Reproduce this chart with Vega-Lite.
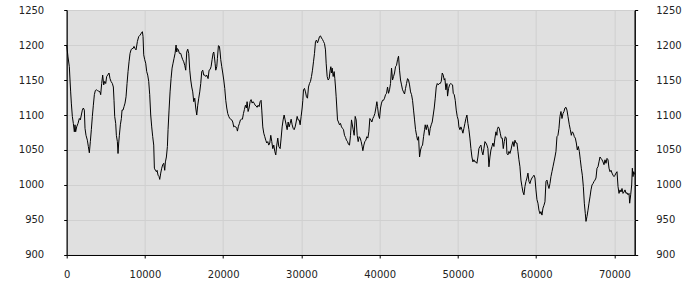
{
  "$schema": "https://vega.github.io/schema/vega-lite/v6.json",
  "width": 568,
  "height": 245,
  "autosize": {"type": "none"},
  "padding": {"left": 66.7, "top": 10, "right": 66, "bottom": 45},
  "background": "white",
  "config": {
    "view": {"fill": "#e0e0e0", "stroke": "black", "strokeWidth": 1},
    "axis": {
      "labelFont": "DejaVu Sans",
      "labelFontSize": 10,
      "labelColor": "#222222",
      "domainColor": "black",
      "domainWidth": 1,
      "tickColor": "black",
      "tickSize": 3,
      "tickWidth": 1,
      "gridColor": "#d0d0d0",
      "gridWidth": 1
    }
  },
  "data": {
    "values": [
      {"x": 0, "y": 1200}, {"x": 166, "y": 1183}, {"x": 337, "y": 1169}, {"x": 422, "y": 1150}, {"x": 507, "y": 1133},
      {"x": 593, "y": 1117}, {"x": 721, "y": 1098}, {"x": 849, "y": 1088}, {"x": 977, "y": 1076}, {"x": 1061, "y": 1086},
      {"x": 1146, "y": 1076}, {"x": 1274, "y": 1083}, {"x": 1445, "y": 1088}, {"x": 1616, "y": 1095}, {"x": 1743, "y": 1093},
      {"x": 1871, "y": 1100}, {"x": 1999, "y": 1107}, {"x": 2127, "y": 1110}, {"x": 2255, "y": 1107}, {"x": 2340, "y": 1081},
      {"x": 2468, "y": 1071}, {"x": 2639, "y": 1064}, {"x": 2767, "y": 1055}, {"x": 2894, "y": 1046}, {"x": 3022, "y": 1062},
      {"x": 3150, "y": 1079}, {"x": 3278, "y": 1098}, {"x": 3406, "y": 1114}, {"x": 3534, "y": 1129}, {"x": 3662, "y": 1135},
      {"x": 3790, "y": 1136}, {"x": 3918, "y": 1135}, {"x": 4088, "y": 1134}, {"x": 4259, "y": 1133}, {"x": 4344, "y": 1129},
      {"x": 4472, "y": 1145}, {"x": 4600, "y": 1157}, {"x": 4728, "y": 1143}, {"x": 4856, "y": 1148}, {"x": 4984, "y": 1145},
      {"x": 5111, "y": 1155}, {"x": 5239, "y": 1157}, {"x": 5410, "y": 1160}, {"x": 5538, "y": 1152}, {"x": 5666, "y": 1148},
      {"x": 5836, "y": 1145}, {"x": 5964, "y": 1140}, {"x": 6050, "y": 1121}, {"x": 6135, "y": 1098}, {"x": 6263, "y": 1088},
      {"x": 6348, "y": 1071}, {"x": 6476, "y": 1062}, {"x": 6561, "y": 1045}, {"x": 6647, "y": 1060}, {"x": 6732, "y": 1071},
      {"x": 6860, "y": 1086}, {"x": 6988, "y": 1095}, {"x": 7073, "y": 1107}, {"x": 7201, "y": 1107}, {"x": 7329, "y": 1112},
      {"x": 7457, "y": 1117}, {"x": 7584, "y": 1126}, {"x": 7712, "y": 1145}, {"x": 7840, "y": 1162}, {"x": 7968, "y": 1176},
      {"x": 8096, "y": 1188}, {"x": 8224, "y": 1193}, {"x": 8351, "y": 1195}, {"x": 8479, "y": 1195}, {"x": 8607, "y": 1198},
      {"x": 8735, "y": 1195}, {"x": 8863, "y": 1193}, {"x": 9034, "y": 1205}, {"x": 9204, "y": 1212}, {"x": 9375, "y": 1214},
      {"x": 9545, "y": 1217}, {"x": 9673, "y": 1219}, {"x": 9758, "y": 1212}, {"x": 9844, "y": 1186}, {"x": 9972, "y": 1179},
      {"x": 10100, "y": 1174}, {"x": 10228, "y": 1162}, {"x": 10355, "y": 1157}, {"x": 10483, "y": 1148}, {"x": 10611, "y": 1129},
      {"x": 10739, "y": 1100}, {"x": 10867, "y": 1083}, {"x": 10995, "y": 1069}, {"x": 11123, "y": 1057}, {"x": 11208, "y": 1024},
      {"x": 11336, "y": 1021}, {"x": 11464, "y": 1019}, {"x": 11549, "y": 1021}, {"x": 11677, "y": 1014}, {"x": 11805, "y": 1012},
      {"x": 11890, "y": 1008}, {"x": 12018, "y": 1017}, {"x": 12146, "y": 1024}, {"x": 12274, "y": 1029}, {"x": 12401, "y": 1031},
      {"x": 12529, "y": 1021}, {"x": 12615, "y": 1033}, {"x": 12743, "y": 1040}, {"x": 12871, "y": 1055}, {"x": 12956, "y": 1079},
      {"x": 13084, "y": 1107}, {"x": 13212, "y": 1133}, {"x": 13340, "y": 1152}, {"x": 13468, "y": 1167}, {"x": 13595, "y": 1174},
      {"x": 13723, "y": 1181}, {"x": 13851, "y": 1188}, {"x": 13979, "y": 1200}, {"x": 14064, "y": 1190}, {"x": 14150, "y": 1195},
      {"x": 14278, "y": 1193}, {"x": 14406, "y": 1188}, {"x": 14576, "y": 1188}, {"x": 14704, "y": 1183}, {"x": 14832, "y": 1179},
      {"x": 14960, "y": 1176}, {"x": 15088, "y": 1171}, {"x": 15215, "y": 1164}, {"x": 15343, "y": 1190}, {"x": 15471, "y": 1194},
      {"x": 15599, "y": 1188}, {"x": 15727, "y": 1164}, {"x": 15855, "y": 1150}, {"x": 15983, "y": 1140}, {"x": 16110, "y": 1133},
      {"x": 16238, "y": 1119}, {"x": 16366, "y": 1124}, {"x": 16494, "y": 1110}, {"x": 16622, "y": 1100}, {"x": 16750, "y": 1114},
      {"x": 16878, "y": 1124}, {"x": 17006, "y": 1133}, {"x": 17133, "y": 1145}, {"x": 17261, "y": 1162}, {"x": 17389, "y": 1164},
      {"x": 17517, "y": 1157}, {"x": 17645, "y": 1157}, {"x": 17773, "y": 1155}, {"x": 17900, "y": 1157}, {"x": 18072, "y": 1152},
      {"x": 18200, "y": 1164}, {"x": 18328, "y": 1165}, {"x": 18456, "y": 1169}, {"x": 18584, "y": 1179}, {"x": 18711, "y": 1188},
      {"x": 18796, "y": 1190}, {"x": 18882, "y": 1183}, {"x": 18967, "y": 1174}, {"x": 19052, "y": 1164}, {"x": 19180, "y": 1169},
      {"x": 19265, "y": 1181}, {"x": 19393, "y": 1199}, {"x": 19521, "y": 1198}, {"x": 19606, "y": 1190}, {"x": 19691, "y": 1179},
      {"x": 19819, "y": 1169}, {"x": 19947, "y": 1160}, {"x": 20075, "y": 1150}, {"x": 20203, "y": 1138}, {"x": 20330, "y": 1121},
      {"x": 20458, "y": 1110}, {"x": 20586, "y": 1102}, {"x": 20714, "y": 1098}, {"x": 20842, "y": 1095}, {"x": 20970, "y": 1094},
      {"x": 21098, "y": 1093}, {"x": 21226, "y": 1090}, {"x": 21353, "y": 1083}, {"x": 21481, "y": 1084}, {"x": 21609, "y": 1083},
      {"x": 21737, "y": 1081}, {"x": 21822, "y": 1077}, {"x": 21950, "y": 1084}, {"x": 22078, "y": 1088}, {"x": 22206, "y": 1093},
      {"x": 22334, "y": 1094}, {"x": 22462, "y": 1094}, {"x": 22590, "y": 1102}, {"x": 22717, "y": 1108}, {"x": 22845, "y": 1114},
      {"x": 22973, "y": 1110}, {"x": 23058, "y": 1119}, {"x": 23186, "y": 1105}, {"x": 23314, "y": 1110}, {"x": 23442, "y": 1119},
      {"x": 23570, "y": 1122}, {"x": 23698, "y": 1117}, {"x": 23826, "y": 1119}, {"x": 23953, "y": 1117}, {"x": 24081, "y": 1114},
      {"x": 24209, "y": 1113}, {"x": 24337, "y": 1111}, {"x": 24465, "y": 1114}, {"x": 24593, "y": 1112}, {"x": 24721, "y": 1119},
      {"x": 24849, "y": 1121}, {"x": 24934, "y": 1107}, {"x": 25062, "y": 1083}, {"x": 25190, "y": 1074}, {"x": 25318, "y": 1069},
      {"x": 25446, "y": 1064}, {"x": 25574, "y": 1060}, {"x": 25701, "y": 1062}, {"x": 25829, "y": 1057}, {"x": 25957, "y": 1060},
      {"x": 26085, "y": 1071}, {"x": 26213, "y": 1062}, {"x": 26341, "y": 1052}, {"x": 26469, "y": 1057}, {"x": 26597, "y": 1048},
      {"x": 26724, "y": 1043}, {"x": 26852, "y": 1057}, {"x": 26980, "y": 1067}, {"x": 27108, "y": 1055}, {"x": 27281, "y": 1052},
      {"x": 27409, "y": 1067}, {"x": 27537, "y": 1083}, {"x": 27665, "y": 1093}, {"x": 27793, "y": 1100}, {"x": 27921, "y": 1093},
      {"x": 28049, "y": 1086}, {"x": 28177, "y": 1079}, {"x": 28305, "y": 1090}, {"x": 28432, "y": 1083}, {"x": 28560, "y": 1088},
      {"x": 28688, "y": 1094}, {"x": 28816, "y": 1086}, {"x": 28944, "y": 1081}, {"x": 29072, "y": 1079}, {"x": 29200, "y": 1083},
      {"x": 29328, "y": 1090}, {"x": 29455, "y": 1098}, {"x": 29583, "y": 1093}, {"x": 29711, "y": 1093}, {"x": 29839, "y": 1086},
      {"x": 29967, "y": 1098}, {"x": 30095, "y": 1110}, {"x": 30180, "y": 1121}, {"x": 30265, "y": 1136}, {"x": 30393, "y": 1138},
      {"x": 30521, "y": 1133}, {"x": 30649, "y": 1126}, {"x": 30777, "y": 1124}, {"x": 30905, "y": 1140}, {"x": 31033, "y": 1145},
      {"x": 31161, "y": 1148}, {"x": 31289, "y": 1155}, {"x": 31416, "y": 1164}, {"x": 31544, "y": 1176}, {"x": 31672, "y": 1188},
      {"x": 31800, "y": 1205}, {"x": 31928, "y": 1207}, {"x": 32056, "y": 1203}, {"x": 32184, "y": 1207}, {"x": 32312, "y": 1212},
      {"x": 32440, "y": 1213}, {"x": 32568, "y": 1210}, {"x": 32696, "y": 1208}, {"x": 32823, "y": 1205}, {"x": 32951, "y": 1202},
      {"x": 33079, "y": 1193}, {"x": 33164, "y": 1174}, {"x": 33292, "y": 1155}, {"x": 33420, "y": 1150}, {"x": 33548, "y": 1152},
      {"x": 33676, "y": 1164}, {"x": 33761, "y": 1169}, {"x": 33846, "y": 1160}, {"x": 33932, "y": 1167}, {"x": 34060, "y": 1155},
      {"x": 34187, "y": 1162}, {"x": 34273, "y": 1152}, {"x": 34358, "y": 1140}, {"x": 34443, "y": 1126}, {"x": 34528, "y": 1110},
      {"x": 34614, "y": 1093}, {"x": 34741, "y": 1090}, {"x": 34869, "y": 1086}, {"x": 34997, "y": 1088}, {"x": 35125, "y": 1083},
      {"x": 35253, "y": 1081}, {"x": 35381, "y": 1079}, {"x": 35509, "y": 1071}, {"x": 35637, "y": 1068}, {"x": 35764, "y": 1064},
      {"x": 35892, "y": 1062}, {"x": 36020, "y": 1058}, {"x": 36148, "y": 1057}, {"x": 36276, "y": 1071}, {"x": 36404, "y": 1093},
      {"x": 36618, "y": 1079}, {"x": 36746, "y": 1071}, {"x": 36874, "y": 1098}, {"x": 37002, "y": 1093}, {"x": 37129, "y": 1071},
      {"x": 37257, "y": 1062}, {"x": 37385, "y": 1069}, {"x": 37513, "y": 1067}, {"x": 37641, "y": 1062}, {"x": 37769, "y": 1055},
      {"x": 37854, "y": 1049}, {"x": 37982, "y": 1057}, {"x": 38110, "y": 1062}, {"x": 38238, "y": 1064}, {"x": 38366, "y": 1069},
      {"x": 38493, "y": 1067}, {"x": 38621, "y": 1076}, {"x": 38749, "y": 1095}, {"x": 38877, "y": 1093}, {"x": 39005, "y": 1090},
      {"x": 39133, "y": 1095}, {"x": 39261, "y": 1098}, {"x": 39389, "y": 1102}, {"x": 39517, "y": 1110}, {"x": 39645, "y": 1119},
      {"x": 39730, "y": 1112}, {"x": 39858, "y": 1100}, {"x": 39985, "y": 1095}, {"x": 40113, "y": 1110}, {"x": 40241, "y": 1117},
      {"x": 40369, "y": 1121}, {"x": 40497, "y": 1121}, {"x": 40625, "y": 1124}, {"x": 40753, "y": 1129}, {"x": 40881, "y": 1131},
      {"x": 41009, "y": 1140}, {"x": 41137, "y": 1131}, {"x": 41264, "y": 1136}, {"x": 41392, "y": 1145}, {"x": 41520, "y": 1167},
      {"x": 41648, "y": 1150}, {"x": 41776, "y": 1155}, {"x": 41904, "y": 1160}, {"x": 42032, "y": 1169}, {"x": 42160, "y": 1171},
      {"x": 42288, "y": 1179}, {"x": 42416, "y": 1184}, {"x": 42544, "y": 1164}, {"x": 42672, "y": 1150}, {"x": 42800, "y": 1143},
      {"x": 42927, "y": 1136}, {"x": 43055, "y": 1133}, {"x": 43183, "y": 1130}, {"x": 43311, "y": 1138}, {"x": 43439, "y": 1145},
      {"x": 43567, "y": 1152}, {"x": 43695, "y": 1150}, {"x": 43823, "y": 1143}, {"x": 43951, "y": 1133}, {"x": 44079, "y": 1129},
      {"x": 44206, "y": 1121}, {"x": 44334, "y": 1107}, {"x": 44462, "y": 1093}, {"x": 44590, "y": 1079}, {"x": 44718, "y": 1071},
      {"x": 44846, "y": 1064}, {"x": 44974, "y": 1069}, {"x": 45102, "y": 1040}, {"x": 45230, "y": 1050}, {"x": 45357, "y": 1055},
      {"x": 45485, "y": 1057}, {"x": 45613, "y": 1069}, {"x": 45741, "y": 1079}, {"x": 45827, "y": 1086}, {"x": 45955, "y": 1079},
      {"x": 46083, "y": 1086}, {"x": 46210, "y": 1081}, {"x": 46338, "y": 1071}, {"x": 46466, "y": 1081}, {"x": 46594, "y": 1086},
      {"x": 46722, "y": 1090}, {"x": 46850, "y": 1100}, {"x": 46978, "y": 1110}, {"x": 47106, "y": 1124}, {"x": 47234, "y": 1140},
      {"x": 47362, "y": 1145}, {"x": 47489, "y": 1143}, {"x": 47617, "y": 1145}, {"x": 47745, "y": 1145}, {"x": 47873, "y": 1148},
      {"x": 48001, "y": 1160}, {"x": 48129, "y": 1157}, {"x": 48257, "y": 1150}, {"x": 48342, "y": 1152}, {"x": 48470, "y": 1136},
      {"x": 48598, "y": 1145}, {"x": 48683, "y": 1127}, {"x": 48811, "y": 1138}, {"x": 48939, "y": 1143}, {"x": 49067, "y": 1145},
      {"x": 49195, "y": 1144}, {"x": 49322, "y": 1143}, {"x": 49407, "y": 1131}, {"x": 49535, "y": 1129}, {"x": 49663, "y": 1121},
      {"x": 49791, "y": 1107}, {"x": 49919, "y": 1098}, {"x": 50047, "y": 1093}, {"x": 50132, "y": 1083}, {"x": 50260, "y": 1079},
      {"x": 50388, "y": 1083}, {"x": 50516, "y": 1079}, {"x": 50644, "y": 1074}, {"x": 50772, "y": 1081}, {"x": 50900, "y": 1088},
      {"x": 51028, "y": 1095}, {"x": 51156, "y": 1100}, {"x": 51283, "y": 1088}, {"x": 51411, "y": 1079}, {"x": 51539, "y": 1067},
      {"x": 51667, "y": 1052}, {"x": 51795, "y": 1040}, {"x": 51923, "y": 1033}, {"x": 52051, "y": 1036}, {"x": 52178, "y": 1033},
      {"x": 52306, "y": 1033}, {"x": 52434, "y": 1031}, {"x": 52562, "y": 1040}, {"x": 52690, "y": 1052}, {"x": 52818, "y": 1055},
      {"x": 52946, "y": 1057}, {"x": 53074, "y": 1048}, {"x": 53202, "y": 1043}, {"x": 53329, "y": 1052}, {"x": 53457, "y": 1062},
      {"x": 53585, "y": 1060}, {"x": 53713, "y": 1057}, {"x": 53841, "y": 1052}, {"x": 53969, "y": 1026}, {"x": 54097, "y": 1040},
      {"x": 54225, "y": 1050}, {"x": 54353, "y": 1055}, {"x": 54481, "y": 1060}, {"x": 54609, "y": 1055}, {"x": 54737, "y": 1067},
      {"x": 54864, "y": 1076}, {"x": 54992, "y": 1071}, {"x": 55035, "y": 1079}, {"x": 55163, "y": 1083}, {"x": 55291, "y": 1081},
      {"x": 55419, "y": 1074}, {"x": 55547, "y": 1067}, {"x": 55674, "y": 1067}, {"x": 55802, "y": 1052}, {"x": 55930, "y": 1062},
      {"x": 56058, "y": 1069}, {"x": 56186, "y": 1067}, {"x": 56271, "y": 1045}, {"x": 56399, "y": 1043}, {"x": 56527, "y": 1048},
      {"x": 56655, "y": 1045}, {"x": 56783, "y": 1050}, {"x": 56911, "y": 1057}, {"x": 57039, "y": 1062}, {"x": 57167, "y": 1055},
      {"x": 57294, "y": 1064}, {"x": 57422, "y": 1060}, {"x": 57550, "y": 1060}, {"x": 57678, "y": 1048}, {"x": 57806, "y": 1036},
      {"x": 57934, "y": 1026}, {"x": 58062, "y": 1007}, {"x": 58190, "y": 998}, {"x": 58317, "y": 990}, {"x": 58445, "y": 986},
      {"x": 58573, "y": 998}, {"x": 58701, "y": 1005}, {"x": 58829, "y": 1010}, {"x": 58957, "y": 1017}, {"x": 59085, "y": 1005},
      {"x": 59212, "y": 1002}, {"x": 59340, "y": 1007}, {"x": 59468, "y": 1010}, {"x": 59596, "y": 1012}, {"x": 59724, "y": 1014},
      {"x": 59852, "y": 1010}, {"x": 59980, "y": 993}, {"x": 60108, "y": 979}, {"x": 60236, "y": 974}, {"x": 60363, "y": 964},
      {"x": 60491, "y": 959}, {"x": 60619, "y": 962}, {"x": 60747, "y": 957}, {"x": 60875, "y": 967}, {"x": 61003, "y": 971},
      {"x": 61131, "y": 976}, {"x": 61259, "y": 1005}, {"x": 61387, "y": 1007}, {"x": 61514, "y": 1000}, {"x": 61642, "y": 995},
      {"x": 61770, "y": 1002}, {"x": 61898, "y": 1012}, {"x": 62026, "y": 1019}, {"x": 62154, "y": 1026}, {"x": 62282, "y": 1033},
      {"x": 62410, "y": 1040}, {"x": 62537, "y": 1048}, {"x": 62665, "y": 1069}, {"x": 62793, "y": 1071}, {"x": 62921, "y": 1081},
      {"x": 63049, "y": 1098}, {"x": 63177, "y": 1105}, {"x": 63305, "y": 1095}, {"x": 63433, "y": 1102}, {"x": 63561, "y": 1105},
      {"x": 63688, "y": 1110}, {"x": 63816, "y": 1111}, {"x": 63944, "y": 1107}, {"x": 64072, "y": 1098}, {"x": 64244, "y": 1086},
      {"x": 64372, "y": 1079}, {"x": 64500, "y": 1071}, {"x": 64628, "y": 1076}, {"x": 64755, "y": 1074}, {"x": 64883, "y": 1069},
      {"x": 65011, "y": 1067}, {"x": 65139, "y": 1060}, {"x": 65267, "y": 1050}, {"x": 65395, "y": 1055}, {"x": 65523, "y": 1048},
      {"x": 65651, "y": 1036}, {"x": 65778, "y": 1024}, {"x": 65906, "y": 1014}, {"x": 66034, "y": 998}, {"x": 66162, "y": 974},
      {"x": 66290, "y": 959}, {"x": 66375, "y": 948}, {"x": 66503, "y": 955}, {"x": 66631, "y": 964}, {"x": 66759, "y": 974},
      {"x": 66887, "y": 983}, {"x": 67015, "y": 993}, {"x": 67143, "y": 1000}, {"x": 67271, "y": 1002}, {"x": 67398, "y": 1005},
      {"x": 67526, "y": 1007}, {"x": 67654, "y": 1010}, {"x": 67782, "y": 1024}, {"x": 67910, "y": 1026}, {"x": 68038, "y": 1033},
      {"x": 68166, "y": 1040}, {"x": 68294, "y": 1038}, {"x": 68421, "y": 1036}, {"x": 68549, "y": 1033}, {"x": 68677, "y": 1029},
      {"x": 68805, "y": 1036}, {"x": 68933, "y": 1031}, {"x": 69061, "y": 1038}, {"x": 69189, "y": 1036}, {"x": 69317, "y": 1024},
      {"x": 69444, "y": 1019}, {"x": 69572, "y": 1021}, {"x": 69700, "y": 1017}, {"x": 69828, "y": 1014}, {"x": 69956, "y": 1012},
      {"x": 70084, "y": 1014}, {"x": 70212, "y": 1017}, {"x": 70340, "y": 1019}, {"x": 70468, "y": 998}, {"x": 70596, "y": 988},
      {"x": 70724, "y": 993}, {"x": 70852, "y": 990}, {"x": 70980, "y": 995}, {"x": 71108, "y": 988}, {"x": 71236, "y": 990},
      {"x": 71363, "y": 993}, {"x": 71491, "y": 988}, {"x": 71619, "y": 989}, {"x": 71747, "y": 986}, {"x": 71875, "y": 988},
      {"x": 71960, "y": 974}, {"x": 72088, "y": 986}, {"x": 72216, "y": 1000}, {"x": 72301, "y": 1024}, {"x": 72386, "y": 1012},
      {"x": 72471, "y": 1019}, {"x": 72600, "y": 1015}
    ]
  },
  "layer": [
    {
      "mark": {"type": "line", "color": "black", "strokeWidth": 1},
      "encoding": {
        "x": {
          "field": "x",
          "type": "quantitative",
          "scale": {"domain": [0, 72600], "nice": false, "zero": false},
          "axis": {
            "title": null,
            "values": [0, 10000, 20000, 30000, 40000, 50000, 60000, 70000],
            "format": "d",
            "labelFlush": false,
            "labelPadding": 12,
            "grid": true
          }
        },
        "y": {
          "field": "y",
          "type": "quantitative",
          "scale": {"domain": [900, 1250], "nice": false, "zero": false},
          "axis": {
            "title": null,
            "values": [900, 950, 1000, 1050, 1100, 1150, 1200, 1250],
            "format": "d",
            "labelPadding": 20,
            "grid": true
          }
        }
      }
    },
    {
      "mark": {"type": "line", "opacity": 0},
      "encoding": {
        "x": {"field": "x", "type": "quantitative"},
        "y": {
          "field": "y",
          "type": "quantitative",
          "scale": {"domain": [900, 1250], "nice": false, "zero": false},
          "axis": {
            "orient": "right",
            "title": null,
            "values": [900, 950, 1000, 1050, 1100, 1150, 1200, 1250],
            "format": "d",
            "labelPadding": 18,
            "grid": false
          }
        }
      }
    }
  ],
  "resolve": {"axis": {"y": "independent"}}
}
